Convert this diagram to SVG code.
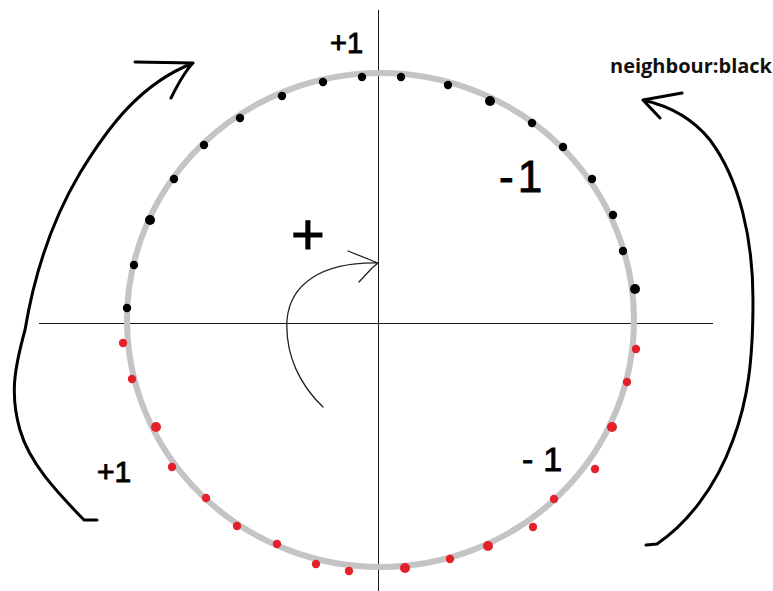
<svg xmlns="http://www.w3.org/2000/svg" width="773" height="591" viewBox="0 0 773 591">
<style>
.axis{stroke:#1a1a1a;stroke-width:1;fill:none}
.ring{stroke:#c4c4c4;stroke-width:6;fill:none}
.bk{fill:#000}
.rd{fill:#e4202a}
.big{stroke:#000;stroke-width:3;fill:none;stroke-linecap:round;stroke-linejoin:round}
.thin{stroke:#222;stroke-width:1.3;fill:none;stroke-linecap:round;stroke-linejoin:round}
.hand{font-family:"Liberation Sans",Arial,sans-serif;fill:#000;stroke:#000;stroke-width:0.9}
.lbl{font-family:"Open Sans","Liberation Sans",sans-serif;font-weight:bold;font-size:20px;fill:#111}
</style>
<rect width="773" height="591" fill="#fff"/>
<g id="axes">
<line class="axis" x1="378.5" y1="10" x2="378.5" y2="591"/>
<line class="axis" x1="39" y1="323.5" x2="713" y2="323.5"/>
</g>
<g id="circle">
<ellipse class="ring" cx="380.5" cy="320" rx="253.5" ry="247"/>
</g>
<g id="black-dots">
<circle class="bk" cx="127" cy="308" r="4.2"/>
<circle class="bk" cx="134" cy="265" r="4.2"/>
<circle class="bk" cx="150" cy="220" r="5"/>
<circle class="bk" cx="174" cy="179" r="4.2"/>
<circle class="bk" cx="204" cy="145" r="4.2"/>
<circle class="bk" cx="240" cy="118" r="4.2"/>
<circle class="bk" cx="282" cy="96" r="4.2"/>
<circle class="bk" cx="323" cy="82" r="4.2"/>
<circle class="bk" cx="362" cy="77" r="4.2"/>
<circle class="bk" cx="401" cy="77" r="4.2"/>
<circle class="bk" cx="448" cy="85" r="4.2"/>
<circle class="bk" cx="490" cy="101" r="5"/>
<circle class="bk" cx="532" cy="123" r="4.2"/>
<circle class="bk" cx="563" cy="147" r="4.2"/>
<circle class="bk" cx="592" cy="179" r="4.2"/>
<circle class="bk" cx="613" cy="215" r="4.2"/>
<circle class="bk" cx="623" cy="251" r="4.2"/>
<circle class="bk" cx="635" cy="289" r="5"/>
</g>
<g id="red-dots">
<circle class="rd" cx="123" cy="343" r="4.2"/>
<circle class="rd" cx="132" cy="379" r="4.2"/>
<circle class="rd" cx="156" cy="427" r="5"/>
<circle class="rd" cx="172" cy="467" r="4.2"/>
<circle class="rd" cx="206" cy="498" r="4.2"/>
<circle class="rd" cx="237" cy="526" r="4.2"/>
<circle class="rd" cx="277" cy="544" r="4.2"/>
<circle class="rd" cx="316" cy="564" r="4.2"/>
<circle class="rd" cx="349" cy="571" r="4.2"/>
<circle class="rd" cx="405" cy="568" r="5"/>
<circle class="rd" cx="450" cy="559" r="4.2"/>
<circle class="rd" cx="488" cy="546" r="5"/>
<circle class="rd" cx="533" cy="527" r="4.2"/>
<circle class="rd" cx="554" cy="499" r="4.2"/>
<circle class="rd" cx="595" cy="469" r="4.2"/>
<circle class="rd" cx="612" cy="427" r="5"/>
<circle class="rd" cx="627" cy="382" r="4.2"/>
<circle class="rd" cx="636" cy="349" r="4.2"/>
</g>
<g id="connectors">
<path id="left-arrow" class="big" d="M97,520 L84,520 C60,495 30,465 20,430 C10,395 14,370 25,330 C35,270 55,215 80,173 C108,127 140,84 193,63 M135,62 L193,63 C188,68 180,80 171,98"/>
<path id="right-arrow" class="big" d="M646,545 L657,544 C685,525 715,490 733,440 C748,400 753,360 753,300 C753,240 740,180 710,140 C690,115 665,105 643,100 M682,93 L643,100 L660,118"/>
<path id="inner-arrow" class="thin" d="M323,407 C300,385 285,355 287,320 C290,285 320,262 378,263 M348,251 L378,263 M359,282 L372,268 L378,263"/>
</g>
<g id="labels">
<text class="hand" x="330" y="53" font-size="29">+1</text>
<text class="hand" x="308" y="254" font-size="58" text-anchor="middle">+</text>
<text class="hand" x="499" y="192" font-size="44" letter-spacing="4">-1</text>
<text class="hand" x="522" y="471" font-size="34" letter-spacing="10">-1</text>
<text class="hand" x="97" y="482" font-size="30">+1</text>
<text class="lbl" x="610" y="73">neighbour:black</text>
</g>
</svg>
